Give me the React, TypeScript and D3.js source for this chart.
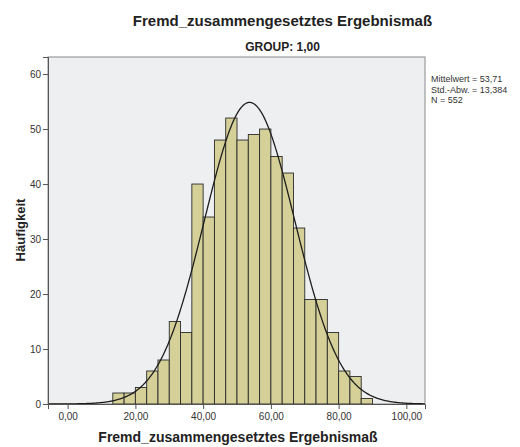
import React, { useEffect, useRef } from 'react';
import * as d3 from 'd3';

// histogram counts per bin (bin width 3,33, first bin starts at 13,33)
const binCounts = [2, 2, 3, 6, 8, 15, 13, 40, 34, 48, 52, 48, 49, 50, 45, 42, 32, 19, 19, 13, 6, 5, 1];
const firstBinStart = 40 / 3;
const binWidth = 10 / 3;

const xTicks = [0, 20, 40, 60, 80, 100];
const yTicks = [0, 10, 20, 30, 40, 50, 60];

const mean = 53.71;
const stdDev = 13.384;
const nTotal = 552;

const legendLines = ['Mittelwert = 53,71', 'Std.-Abw. = 13,384', 'N = 552'];

const W = 520;
const H = 447;
const plot = { left: 48, top: 57, right: 425, bottom: 404 };
const font = 'Liberation Sans, Arial, sans-serif';

const fmt = (v: number) => v.toFixed(2).replace('.', ',');

const Histogram = () => {
    const svgRef = useRef<SVGSVGElement>(null);

    useEffect(() => {
        const svg = d3.select(svgRef.current);
        svg.selectAll('*').remove();

        const x = d3.scaleLinear().domain([-5.8, 105.5]).range([plot.left, plot.right]);
        const y = d3.scaleLinear().domain([0, 63.1]).range([plot.bottom, plot.top]);

        // plot background
        svg.append('rect')
            .attr('x', plot.left)
            .attr('y', plot.top)
            .attr('width', plot.right - plot.left)
            .attr('height', plot.bottom - plot.top)
            .attr('fill', '#eeeff1')
            .attr('stroke', '#8a8a8a');

        // bars
        svg.selectAll('rect.bar')
            .data(binCounts)
            .enter()
            .append('rect')
            .attr('class', 'bar')
            .attr('x', (d, i) => x(firstBinStart + i * binWidth))
            .attr('y', d => y(d))
            .attr('width', x(binWidth) - x(0))
            .attr('height', d => y(0) - y(d))
            .attr('fill', '#d4d098')
            .attr('stroke', '#2b2b2b')
            .attr('stroke-width', 0.9);

        // normal curve from mean / std dev
        const pdf = (v: number) =>
            nTotal * binWidth * Math.exp(-0.5 * ((v - mean) / stdDev) ** 2) / (stdDev * Math.sqrt(2 * Math.PI));
        const curvePts = d3.range(-5.8, 105.5, 0.25).map(v => [v, pdf(v)] as [number, number]);
        svg.append('path')
            .attr('d', d3.line<[number, number]>().x(d => x(d[0])).y(d => y(d[1]))(curvePts))
            .attr('fill', 'none')
            .attr('stroke', '#1e1e1e')
            .attr('stroke-width', 1.3);

        // axes
        const yAxis = svg.append('g')
            .attr('transform', `translate(${plot.left},0)`)
            .call(d3.axisLeft(y).tickValues(yTicks).tickSize(5).tickPadding(2).tickFormat(d => String(d)));
        yAxis.select('.domain').attr('stroke', '#555');

        const xAxis = svg.append('g')
            .attr('transform', `translate(0,${plot.bottom})`)
            .call(d3.axisBottom(x).tickValues(xTicks).tickSize(5).tickPadding(4).tickFormat(d => fmt(+d)));
        xAxis.select('.domain').attr('stroke', '#555');

        svg.selectAll('.tick line').attr('stroke', '#555');
        svg.selectAll('.tick text')
            .attr('font-family', font)
            .attr('font-size', 10)
            .attr('fill', '#333');
    }, []);

    return (
        <svg ref={svgRef} width={W} height={H} style={{ position: 'absolute', left: 0, top: 0, background: '#fff' }} />
    );
};

const App = () => (
    <div style={{ position: 'absolute', left: 0, top: 0, width: W, height: H }}>
        <Histogram />
        <svg width={W} height={H} style={{ position: 'absolute', left: 0, top: 0, pointerEvents: 'none' }} fontFamily={font}>
            <text x={282.5} y={26} textAnchor="middle" fontSize={15} fontWeight="bold" fill="#222">
                Fremd_zusammengesetztes Ergebnismaß
            </text>
            <text x={282.5} y={51} textAnchor="middle" fontSize={12} fontWeight="bold" fill="#222">
                GROUP: 1,00
            </text>
            <text x={238} y={442} textAnchor="middle" fontSize={14} fontWeight="bold" fill="#222">
                Fremd_zusammengesetztes Ergebnismaß
            </text>
            <text transform="translate(25,230) rotate(-90)" textAnchor="middle" fontSize={13} fontWeight="bold" fill="#222">
                Häufigkeit
            </text>
            {legendLines.map((t, i) => (
                <text key={t} x={431} y={82 + i * 10.5} fontSize={9} fill="#333">{t}</text>
            ))}
        </svg>
    </div>
);

export default App;
